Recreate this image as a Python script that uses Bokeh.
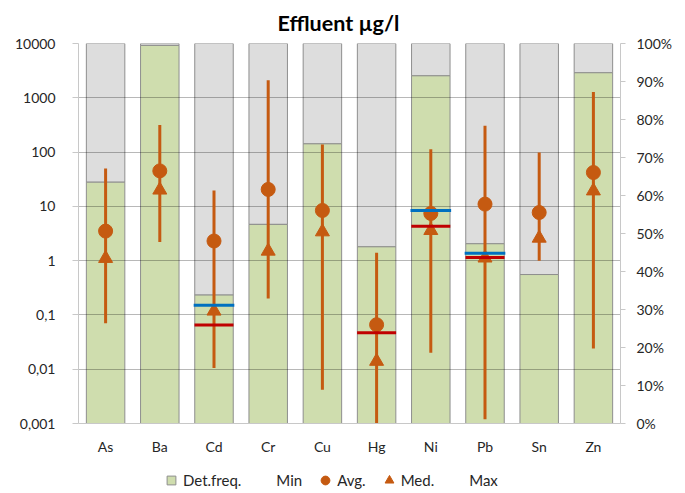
from bokeh.plotting import figure
from bokeh.layouts import column
from bokeh.models import (Range1d, LinearScale, LinearAxis, FixedTicker, PrintfTickFormatter,
                          Legend, LegendItem)
from bokeh.embed import file_html
from bokeh.resources import INLINE

nan = float("nan")

# ---- data ----
metals = ["As", "Ba", "Cd", "Cr", "Cu", "Hg", "Ni", "Pb", "Sn", "Zn"]
det_freq = [63.5, 99.5, 33.8, 52.4, 73.6, 46.5, 91.5, 47.3, 39.2, 92.3]   # % (right axis)
min_vals = [0.07, 2.2, 0.0105, 0.2, 0.0042, 0.001, 0.02, 0.0012, 1.0, 0.024]
max_vals = [50, 316, 19.5, 2100, 138, 1.4, 113, 305, 98, 1280]
avg_vals = [3.5, 45, 2.3, 20.5, 8.4, 0.066, 7.4, 11, 7.7, 42]
med_vals = [1.1, 20, 0.118, 1.5, 3.4, 0.014, 3.6, 1.12, 2.6, 19.3]
blue_vals = [nan, nan, 0.15, nan, nan, nan, 8.4, 1.37, nan, nan]
red_vals = [nan, nan, 0.065, nan, nan, 0.047, 4.3, 1.14, nan, nan]

y_ticks = [0.001, 0.01, 0.1, 1, 10, 100, 1000, 10000]
y_tick_labels = ["0,001", "0,01", "0,1", "1", "10", "100", "1000", "10000"]
pct_ticks = [0, 10, 20, 30, 40, 50, 60, 70, 80, 90, 100]

FONT = "Lato"
ORANGE = "#C55A11"
GREEN = "#CFDDAE"
GREY = "#DDDDDD"
OUTLINE = "#8E8E8E"
TEXT = "#262626"

p = figure(width=685, height=458, x_range=metals, y_axis_type="log",
           y_range=Range1d(0.001, 10000), output_backend="svg", toolbar_location=None,
           min_border_left=78, min_border_right=65, min_border_top=43, min_border_bottom=35,
           title="Effluent µg/l")
p.outline_line_color = None
p.extra_y_ranges = {"pct": Range1d(0, 100)}
p.extra_y_scales = {"pct": LinearScale()}

p.title.align = "left"
p.title.offset = 199
p.title.standoff = 15
p.title.text_font = FONT
p.title.text_font_size = "21.5px"
p.title.text_font_style = "bold"
p.title.text_color = "black"

# bars (100% stack: detected / not detected)
grey = p.vbar(x=metals, bottom=det_freq, top=100, width=0.71, y_range_name="pct",
              fill_color=GREY, line_color=OUTLINE, line_width=1)
green = p.vbar(x=metals, bottom=0, top=det_freq, width=0.71, y_range_name="pct",
               fill_color=GREEN, line_color=OUTLINE, line_width=1)
grey.level = "image"
green.level = "image"

# min-max lines
p.segment(x0=metals, y0=min_vals, x1=metals, y1=max_vals, line_color=ORANGE, line_width=3)
p.scatter(x=metals, y=avg_vals, marker="circle", size=14, fill_color=ORANGE, line_color=ORANGE)
p.scatter(x=metals, y=med_vals, marker="triangle", size=14, fill_color=ORANGE, line_color=ORANGE)

# reference levels
p.rect(x=metals, y=blue_vals, width=0.75, height=3, height_units="screen",
       fill_color="#0070C0", line_color=None)
p.rect(x=metals, y=red_vals, width=0.72, height=3, height_units="screen",
       fill_color="#C00000", line_color=None)

# axes
p.yaxis.ticker = FixedTicker(ticks=y_ticks)
p.yaxis.major_label_overrides = {t: l for t, l in zip(y_ticks, y_tick_labels)}
p.yaxis.minor_tick_line_color = None
p.yaxis.major_tick_out = 6
p.yaxis.major_tick_in = 0
p.yaxis.major_label_standoff = 17
p.yaxis.axis_line_color = "#C8C8C8"
p.yaxis.major_tick_line_color = "#C8C8C8"
p.yaxis.major_label_text_font = FONT
p.yaxis.major_label_text_font_size = "14px"
p.yaxis.major_label_text_color = TEXT

ax2 = LinearAxis(y_range_name="pct", ticker=FixedTicker(ticks=pct_ticks),
                 formatter=PrintfTickFormatter(format="%d%%"))
ax2.major_tick_out = 5
ax2.major_tick_in = 0
ax2.major_label_standoff = 11
ax2.axis_line_color = "#C8C8C8"
ax2.major_tick_line_color = "#C8C8C8"
ax2.major_label_text_font = FONT
ax2.major_label_text_font_size = "14px"
ax2.major_label_text_color = TEXT
p.add_layout(ax2, "right")

p.xaxis.major_tick_line_color = None
p.xaxis.minor_tick_line_color = None
p.xaxis.axis_line_color = "#C8C8C8"
p.xaxis.major_label_standoff = 8
p.xaxis.major_label_text_font = FONT
p.xaxis.major_label_text_font_size = "14px"
p.xaxis.major_label_text_color = TEXT

p.xgrid.grid_line_color = None
p.ygrid.ticker = FixedTicker(ticks=y_ticks)
p.ygrid.grid_line_color = "black"
p.ygrid.grid_line_alpha = 0.28

# ---- legend strip (series drawn off-range, only their legend samples show) ----
leg = figure(width=685, height=35, x_range=metals, y_range=Range1d(-2, -1),
             output_backend="svg", toolbar_location=None,
             x_axis_location=None, y_axis_location=None,
             min_border_left=0, min_border_right=0, min_border_top=0, min_border_bottom=0)
leg.outline_line_color = None
leg.grid.grid_line_color = None
l_det = leg.scatter(x=metals, y=det_freq, marker="square", fill_color=GREEN, line_color=OUTLINE)
l_min = leg.scatter(x=metals, y=min_vals, alpha=0)
l_avg = leg.scatter(x=metals, y=avg_vals, marker="circle", fill_color=ORANGE, line_color=ORANGE)
l_med = leg.scatter(x=metals, y=med_vals, marker="triangle", fill_color=ORANGE, line_color=ORANGE)
l_max = leg.scatter(x=metals, y=max_vals, alpha=0)

legend = Legend(items=[LegendItem(label="Det.freq.", renderers=[l_det]),
                       LegendItem(label="Min", renderers=[l_min]),
                       LegendItem(label="Avg.", renderers=[l_avg]),
                       LegendItem(label="Med.", renderers=[l_med]),
                       LegendItem(label="Max", renderers=[l_max])],
                orientation="horizontal", location=(82, 2))
legend.glyph_width = 22
legend.glyph_height = 22
legend.label_standoff = 1
legend.spacing = 12
legend.padding = 0
legend.margin = 0
legend.border_line_color = None
legend.background_fill_alpha = 0
legend.label_text_font = FONT
legend.label_text_font_size = "15px"
legend.label_text_color = TEXT
leg.add_layout(legend, "center")

open("out.html", "w").write(file_html(column(p, leg, spacing=0), INLINE))
